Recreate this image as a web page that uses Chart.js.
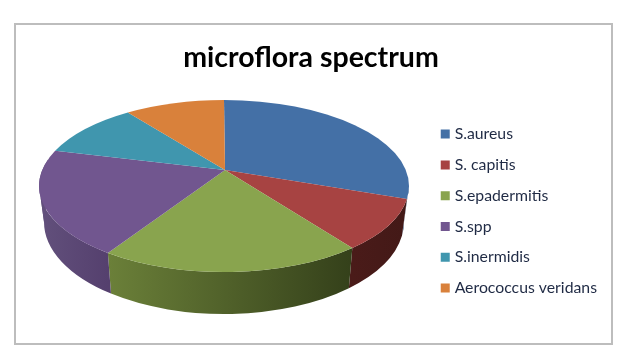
<!DOCTYPE html>
<html>
<head>
<meta charset="utf-8">
<style>
  html, body { margin: 0; padding: 0; background: #fff; }
  #wrap { width: 627px; height: 359px; }
</style>
</head>
<body>
<div id="wrap"><canvas id="pieChart" width="627" height="359"></canvas></div>
<script src="https://cdn.jsdelivr.net/npm/chart.js@4/dist/chart.umd.js"></script>
<script>
const categories = ['S.aureus', 'S. capitis', 'S.epadermitis', 'S.spp', 'S.inermidis', 'Aerococcus veridans'];
const seriesValues = [27.4, 10.4, 23, 20.9, 9.6, 8.7];
const topColors = ['#4470a6', '#a74342', '#89a44e', '#71568f', '#4096ae', '#d9813b'];
const wallLeft = ['#2f4d73', '#4a1b19', '#6b8039', '#62507c', '#2c6a7b', '#96592a'];
const wallRight = ['#2a4568', '#431917', '#34401a', '#55406e', '#2c6a7b', '#96592a'];

// the picture is a tilted pie, so the rim is an ellipse and the apex sits above its centre
const rim = { x: 224, y: 186, rx: 185, ry: 86 };
const base = { x: 224, y: 222, rx: 180, ry: 92 };
const apex = { x: 225, y: 170 };

function rimPoint(e, a) {
    return [e.x + e.rx * Math.cos(a), e.y + e.ry * Math.sin(a)];
}

const pie3d = {
    id: 'pie3d',
    beforeDraw(chart) {
        const ctx = chart.ctx;
        ctx.save();
        ctx.fillStyle = '#fff';
        ctx.fillRect(0, 0, chart.width, chart.height);
        ctx.strokeStyle = '#bdbdbd';
        ctx.lineWidth = 2;
        ctx.strokeRect(15, 24, 597, 320);
        ctx.restore();
    },
    beforeDatasetDraw(chart, args) {
        const ctx = chart.ctx;
        const arcs = args.meta.data;
        ctx.save();
        // side wall first, only the front half of the rim can be seen
        arcs.forEach((arc, i) => {
            const a0 = Math.max(arc.startAngle, 0);
            const a1 = Math.min(arc.endAngle, Math.PI);
            if (a1 <= a0) return;
            const x0 = rimPoint(rim, a1)[0];
            const x1 = rimPoint(rim, a0)[0];
            const grad = ctx.createLinearGradient(x0, 0, x1, 0);
            grad.addColorStop(0, wallLeft[i]);
            grad.addColorStop(1, wallRight[i]);
            ctx.fillStyle = grad;
            ctx.beginPath();
            ctx.ellipse(rim.x, rim.y, rim.rx, rim.ry, 0, a0, a1);
            ctx.ellipse(base.x, base.y, base.rx, base.ry, 0, a1, a0, true);
            ctx.closePath();
            ctx.fill();
        });
        // left part of the wall, past the half way mark of the rim
        arcs.forEach((arc, i) => {
            const a0 = Math.max(arc.startAngle, Math.PI);
            const a1 = Math.min(arc.endAngle, Math.PI * 1.1);
            if (a1 <= a0) return;
            ctx.fillStyle = wallLeft[i];
            ctx.beginPath();
            ctx.ellipse(rim.x, rim.y, rim.rx, rim.ry, 0, a0, a1);
            ctx.ellipse(base.x, base.y, base.rx, base.ry, 0, a1, a0, true);
            ctx.closePath();
            ctx.fill();
        });
        // top faces
        arcs.forEach((arc, i) => {
            ctx.fillStyle = topColors[i];
            ctx.beginPath();
            ctx.moveTo(apex.x, apex.y);
            ctx.ellipse(rim.x, rim.y, rim.rx, rim.ry, 0, arc.startAngle, arc.endAngle);
            ctx.closePath();
            ctx.fill();
        });
        ctx.restore();
        return false;
    }
};

new Chart(document.getElementById('pieChart').getContext('2d'), {
    type: 'pie',
    data: {
        labels: categories,
        datasets: [{
            data: seriesValues,
            backgroundColor: topColors,
            borderWidth: 0
        }]
    },
    plugins: [pie3d],
    options: {
        responsive: false,
        animation: false,
        layout: { padding: { left: 15, right: 20, top: 41, bottom: 18 } },
        plugins: {
            title: {
                display: true,
                text: 'microflora spectrum',
                color: '#000',
                font: { family: 'Lato', size: 28.5, weight: 'bold' },
                padding: { top: 0, bottom: 6 }
            },
            legend: {
                position: 'right',
                fullSize: false,
                labels: {
                    // narrow layout width with a 9px square keeps the label close to the box
                    usePointStyle: true,
                    pointStyle: 'rect',
                    boxWidth: 3,
                    boxHeight: 9,
                    padding: 15,
                    color: '#1f2a44',
                    font: { family: 'Lato', size: 15.8 }
                }
            },
            tooltip: { enabled: false }
        }
    }
});
</script>
</body>
</html>
